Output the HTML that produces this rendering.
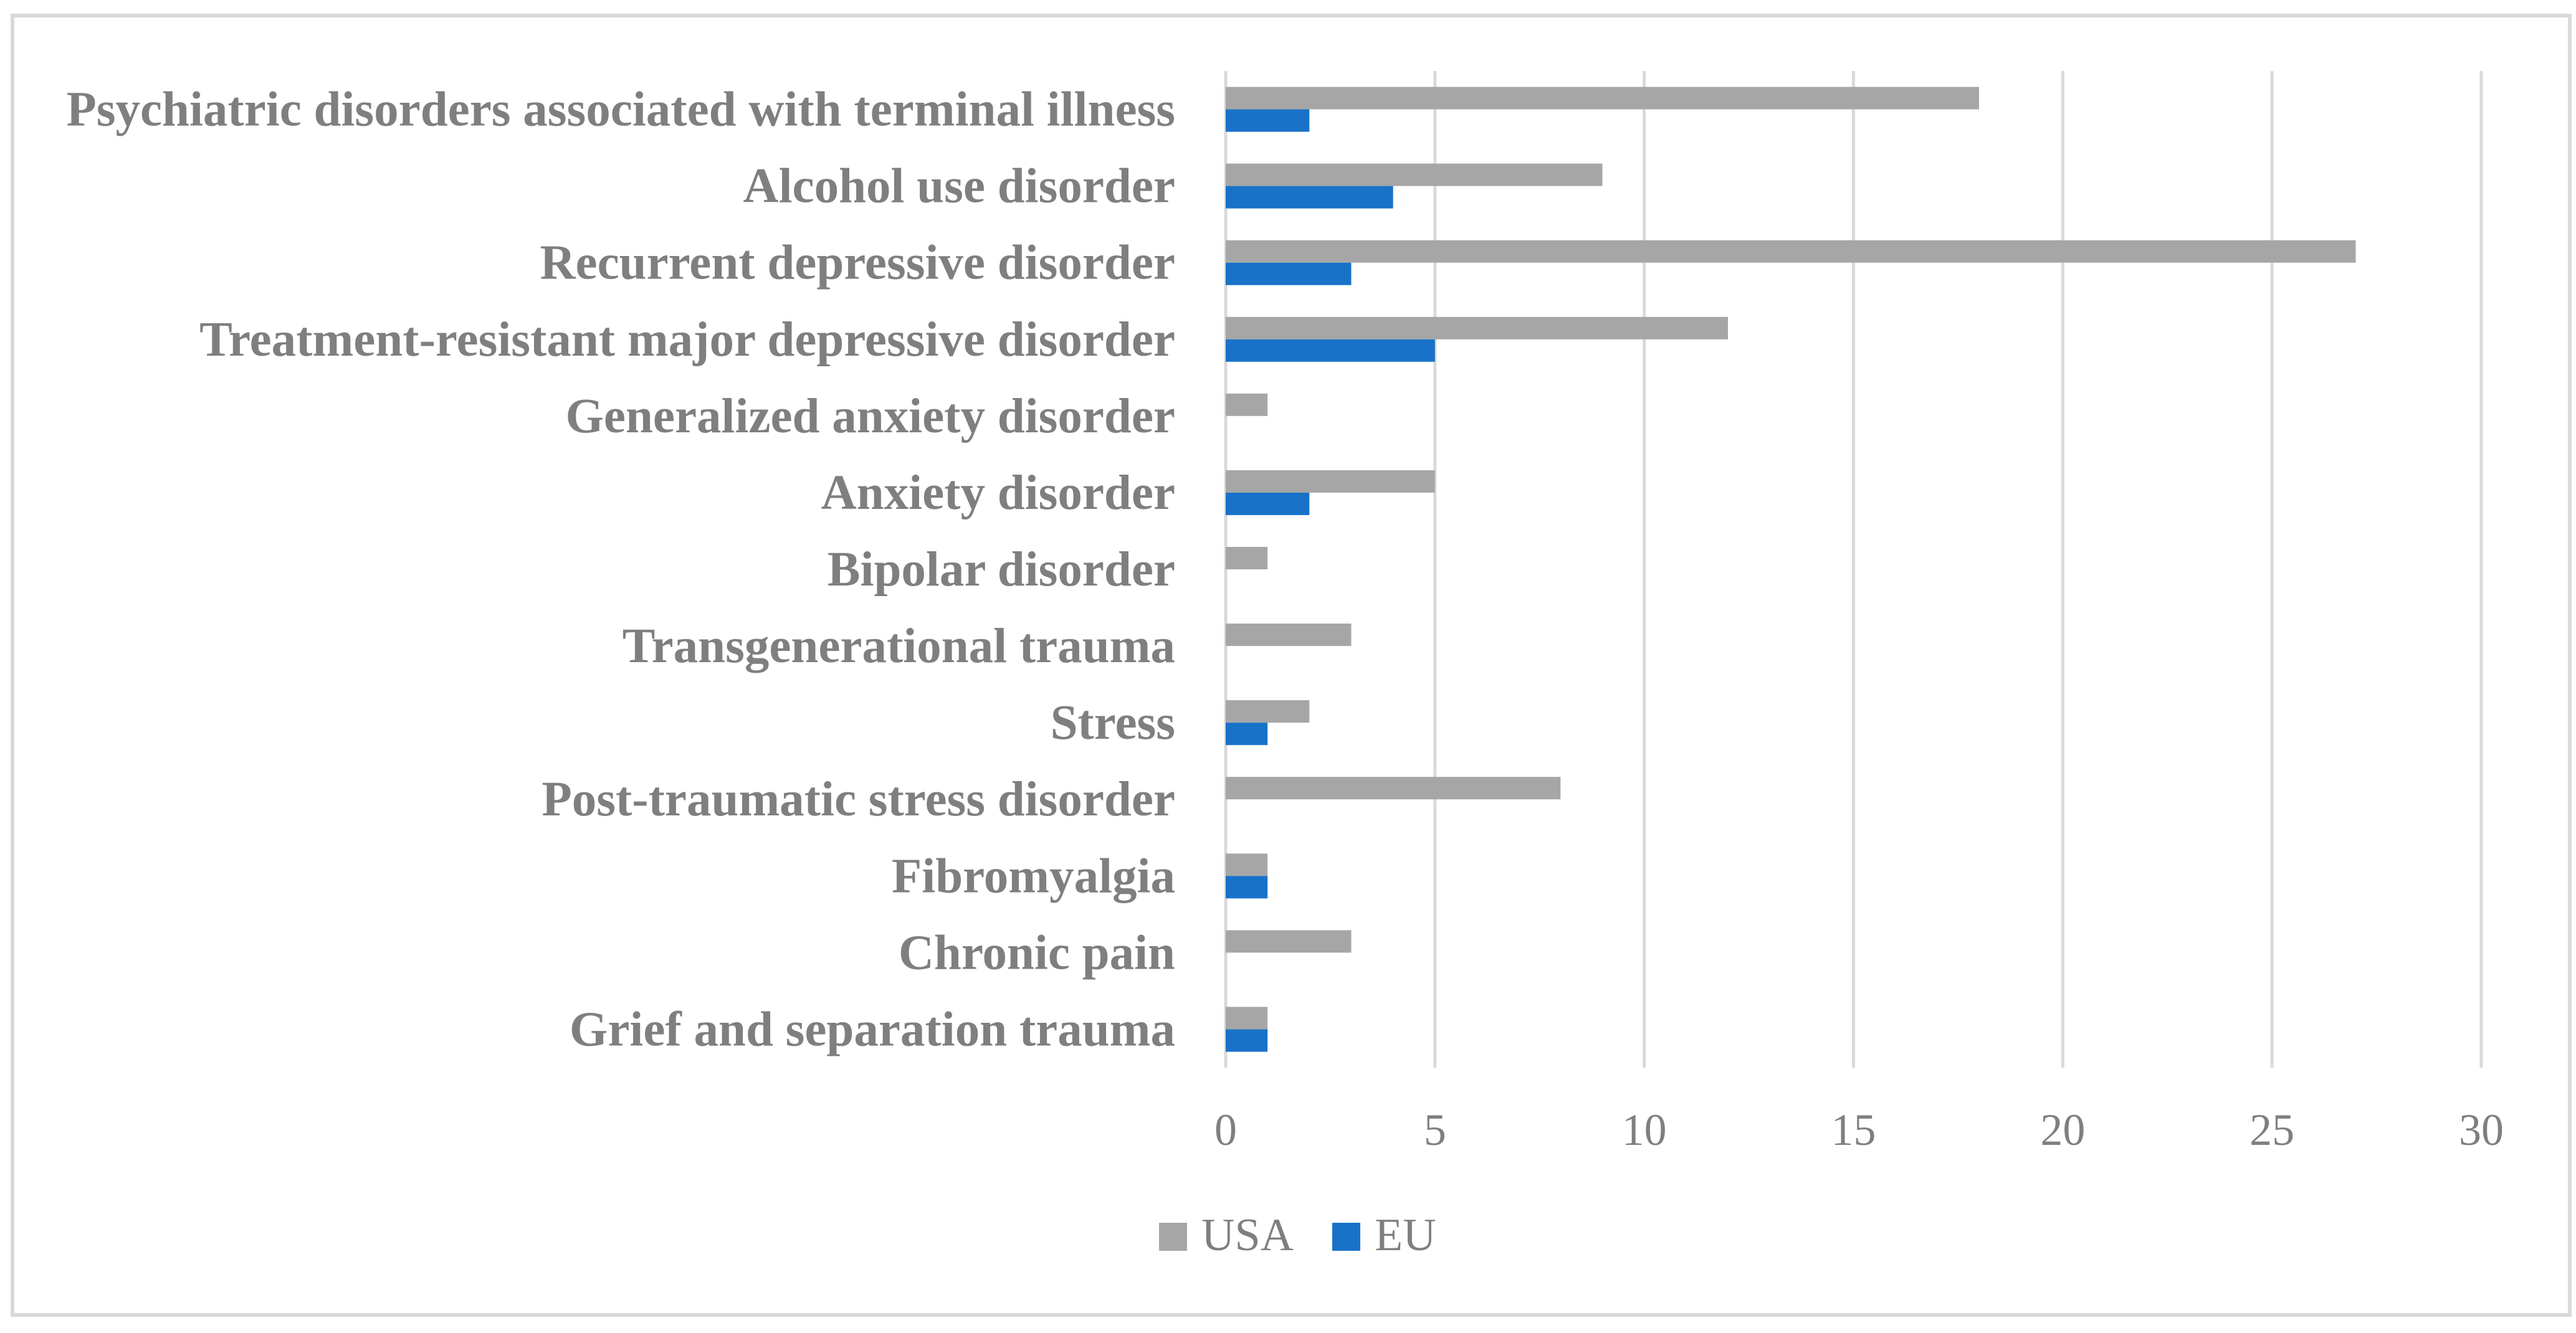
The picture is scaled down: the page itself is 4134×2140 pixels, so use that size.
<!DOCTYPE html>
<html><head><meta charset="utf-8"><style>
html,body{margin:0;padding:0;background:#fff;}
svg{display:block;}
</style></head><body>
<svg id="chart" width="4134" height="2140" viewBox="0 0 4134 2140" xmlns="http://www.w3.org/2000/svg">
<rect x="20" y="25" width="4104" height="2086" fill="#fff" stroke="#d9d9d9" stroke-width="6"/>
<g id="grid"></g><g id="bars"></g><g id="labels"></g><g id="ticks"></g>
<g>
<rect x="1860" y="1963" width="45" height="45" fill="#a6a6a6"/>
<text x="1928" y="2007" font-family="Liberation Serif, serif" font-size="74" fill="#7f7f7f">USA</text>
<rect x="2138" y="1963" width="45" height="45" fill="#1872c8"/>
<text x="2206" y="2007" font-family="Liberation Serif, serif" font-size="74" fill="#7f7f7f">EU</text>
</g>
</svg>
<script>
const categories = ["Psychiatric disorders associated with terminal illness","Alcohol use disorder","Recurrent depressive disorder","Treatment-resistant major depressive disorder","Generalized anxiety disorder","Anxiety disorder","Bipolar disorder","Transgenerational trauma","Stress","Post-traumatic stress disorder","Fibromyalgia","Chronic pain","Grief and separation trauma"];
const usaValues = [18,9,27,12,1,5,1,3,2,8,1,3,1];
const euValues = [2,4,3,5,0,2,0,0,1,0,1,0,1];
const tickValues = [0,5,10,15,20,25,30];

const NS="http://www.w3.org/2000/svg";
const x0=1967, x1=3982, xMax=30, yTop=114, yBot=1714;
const xs=v=>x0+(v/xMax)*(x1-x0);
const band=(yBot-yTop)/categories.length;
const barH=36;
function mk(tag,attrs,parent){const e=document.createElementNS(NS,tag);for(const k in attrs)e.setAttribute(k,attrs[k]);parent.appendChild(e);return e;}
const grid=document.getElementById('grid'),bars=document.getElementById('bars'),labels=document.getElementById('labels'),ticks=document.getElementById('ticks');
tickValues.forEach(t=>{
  const l=mk('line',{x1:xs(t),x2:xs(t),y1:yTop,y2:yBot,stroke:'#d9d9d9','stroke-width':5},grid);
  
  
  const tx=mk('text',{x:xs(t),y:1838,'text-anchor':'middle','font-family':'Liberation Serif, serif','font-size':72,fill:'#7f7f7f'},ticks);
  tx.textContent=t;
  
  
});
categories.forEach((c,i)=>{
  const cy=yTop+band*i+band/2;
  const r1=mk('rect',{x:xs(0),y:cy-barH,width:xs(usaValues[i])-xs(0),height:barH,fill:'#a6a6a6'},bars);
  
  
  const r2=mk('rect',{x:xs(0),y:cy,width:xs(euValues[i])-xs(0),height:barH,fill:'#1872c8'},bars);
  
  
  const t=mk('text',{x:1886,y:cy+26,'text-anchor':'end','font-family':'Liberation Serif, serif','font-size':79,'font-weight':'bold',fill:'#7f7f7f'},labels);
  t.textContent=c;
  
  
});
</script>
</body></html>
